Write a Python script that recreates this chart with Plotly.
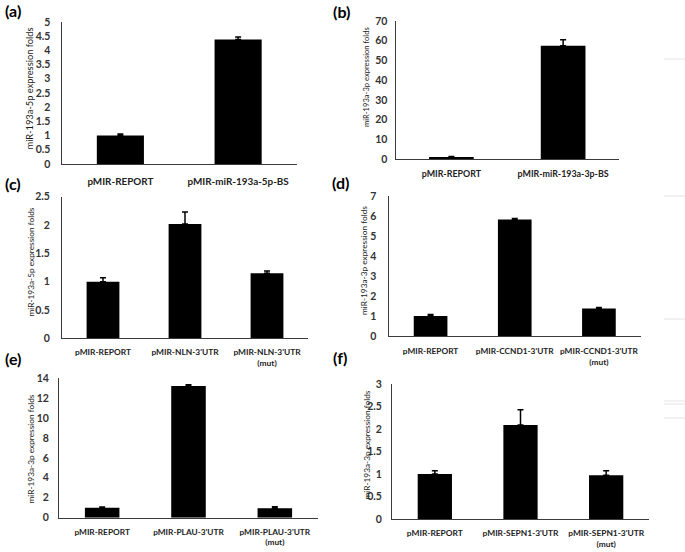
import plotly.graph_objects as go

W, H = 685, 552

# ---------------- data ----------------
cats_a = ["pMIR-REPORT", "pMIR-miR-193a-5p-BS"]
vals_a = [1.0, 4.38]
err_a = [0.06, 0.09]

cats_b = ["pMIR-REPORT", "pMIR-miR-193a-3p-BS"]
vals_b = [1.0, 57.5]
err_b = [0.3, 3.0]

cats_c = ["pMIR-REPORT", "pMIR-NLN-3'UTR", "pMIR-NLN-3'UTR<br>(mut)"]
vals_c = [1.0, 2.02, 1.15]
err_c = [0.07, 0.21, 0.04]

cats_d = ["pMIR-REPORT", "pMIR-CCND1-3'UTR", "pMIR-CCND1-3'UTR<br>(mut)"]
vals_d = [1.0, 5.83, 1.38]
err_d = [0.07, 0.05, 0.04]

cats_e = ["pMIR-REPORT", "pMIR-PLAU-3'UTR", "pMIR-PLAU-3'UTR<br>(mut)"]
vals_e = [1.0, 13.2, 0.95]
err_e = [0.08, 0.13, 0.15]

cats_f = ["pMIR-REPORT", "pMIR-SEPN1-3'UTR", "pMIR-SEPN1-3'UTR<br>(mut)"]
vals_f = [1.0, 2.09, 0.97]
err_f = [0.07, 0.34, 0.1]

ytitles = ["miR-193a-5p expression folds", "miR-193a-3p expression folds",
           "miR-193a-5p expression folds", "miR-193a-3p expression folds",
           "miR-193a-3p expression folds", "miR-193a-3p expression folds"]
panel_labels = ["(a)", "(b)", "(c)", "(d)", "(e)", "(f)"]
yranges = [[0, 5], [0, 70], [0, 2.5], [0, 7], [0, 14], [0, 3]]
ydticks = [0.5, 10, 0.5, 1, 2, 0.5]

panels = [(cats_a, vals_a, err_a), (cats_b, vals_b, err_b), (cats_c, vals_c, err_c),
          (cats_d, vals_d, err_d), (cats_e, vals_e, err_e), (cats_f, vals_f, err_f)]

# ---------------- layout geometry (pixels) ----------------
# plot boxes: x0, x1, ytop, ybottom
boxes = [(61.5, 297, 22, 164), (395.5, 619, 21, 159),
         (62, 308, 196.7, 338.3), (388.5, 641, 196, 336),
         (59, 318, 378, 517.7), (392, 649, 384, 519)]
title_x = [29, 365.5, 30.5, 364, 30.5, 366]
title_y = [88.5, 77.5, 262, 261, 449, 444.5]
title_size = [9.3, 7.6, 8.3, 8.3, 8.3, 8.3]
label_pos = [(13, 11), (341, 12), (13, 184), (340, 182), (13, 358), (340, 357)]
standoffs = [8, 5, 9, 9, 7, 7]
xstandoffs = [8, 6, 6, 7, 6, 6]
xfont = [9.9, 8.9, 8.4, 8.3, 8.3, 8.4]

FONT = "Lato"

fig = go.Figure()
layout = dict(width=W, height=H, margin=dict(l=0, r=0, t=0, b=0, autoexpand=False),
              paper_bgcolor="white", plot_bgcolor="white",
              showlegend=False, bargap=0.6, annotations=[], shapes=[])

for i, (cats, vals, errs) in enumerate(panels):
    n = "" if i == 0 else str(i + 1)
    fig.add_trace(go.Bar(
        x=cats, y=vals, xaxis="x" + n, yaxis="y" + n,
        marker=dict(color="black", line=dict(width=0)),
        error_y=dict(type="data", symmetric=False, array=errs,
                     arrayminus=[0] * len(errs), color="black",
                     thickness=1.5, width=3),
        hoverinfo="x+y"))
    x0, x1, yt, yb = boxes[i]
    layout["xaxis" + n] = dict(
        domain=[x0 / W, x1 / W], anchor="y" + n, type="category",
        showline=True, linecolor="#3a3a3a", linewidth=1, tickangle=0,
        showgrid=False, zeroline=False, ticks="", fixedrange=True, automargin=False,
        tickfont=dict(family=FONT, size=xfont[i], color="#222222", weight="bold"),
        ticklabelstandoff=xstandoffs[i])
    layout["yaxis" + n] = dict(
        domain=[1 - yb / H, 1 - yt / H], anchor="x" + n,
        range=yranges[i], dtick=ydticks[i], tick0=0,
        showline=True, linecolor="#3a3a3a", linewidth=1,
        showgrid=False, zeroline=False, ticks="", fixedrange=True, automargin=False,
        tickfont=dict(family=FONT, size=10.5, color="#333333", weight="bold"),
        ticklabelstandoff=standoffs[i])
    layout["annotations"].append(dict(
        text=ytitles[i], textangle=-90, x=title_x[i] / W, y=1 - title_y[i] / H,
        xref="paper", yref="paper", showarrow=False, xanchor="center", yanchor="middle",
        font=dict(family=FONT, size=title_size[i], color="#1a1a1a")))
    lx, ly = label_pos[i]
    layout["annotations"].append(dict(
        text=panel_labels[i], x=lx / W, y=1 - ly / H, xref="paper", yref="paper",
        showarrow=False, xanchor="center", yanchor="middle",
        font=dict(family=FONT, size=16, color="black", weight="bold")))

# faint scanning artefacts at the right edge of the original figure
for yy in [59, 196, 319, 401, 404, 418]:
    layout["shapes"].append(dict(type="line", xref="paper", yref="paper",
                                 x0=664 / W, x1=1, y0=1 - yy / H, y1=1 - yy / H,
                                 line=dict(color="#e4e4e4", width=1)))

fig.update_layout(**layout)
fig.write_html("out.html", config={"displayModeBar": False},
               post_script="document.body.style.margin='0';document.body.style.padding='0';")
